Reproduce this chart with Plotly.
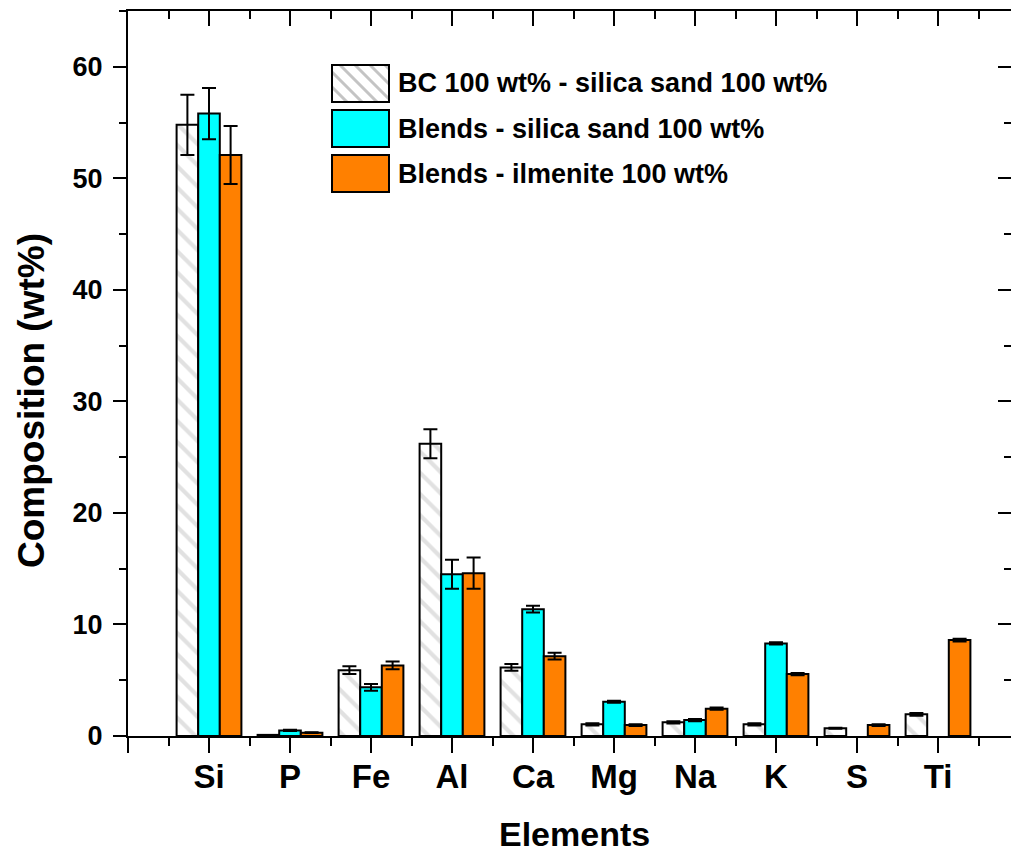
import plotly.graph_objects as go

elements = ["Si", "P", "Fe", "Al", "Ca", "Mg", "Na", "K", "S", "Ti"]
positions = [1, 2, 3, 4, 5, 6, 7, 8, 9, 10]

bc_silica = [54.8, 0.1, 5.9, 26.2, 6.15, 1.05, 1.23, 1.05, 0.69, 1.94]
bc_silica_err = [2.7, 0.0, 0.35, 1.3, 0.3, 0.1, 0.1, 0.1, 0.05, 0.12]

blends_silica = [55.8, 0.5, 4.36, 14.5, 11.37, 3.07, 1.43, 8.3, None, None]
blends_silica_err = [2.3, 0.05, 0.3, 1.3, 0.3, 0.1, 0.1, 0.1, 0.0, 0.0]

blends_ilmenite = [52.1, 0.3, 6.33, 14.6, 7.16, 0.98, 2.45, 5.55, 0.98, 8.6]
blends_ilmenite_err = [2.6, 0.03, 0.35, 1.4, 0.3, 0.08, 0.1, 0.1, 0.08, 0.12]

series_names = ["BC 100 wt% - silica sand 100 wt%",
                "Blends - silica sand 100 wt%",
                "Blends - ilmenite 100 wt%"]
series_colors = ["white", "#00FFFF", "#FF8000"]

FONT = "Liberation Sans, Arial, sans-serif"
HATCH = "#c4c4c4"
err_style = dict(type="data", color="black", thickness=2, width=7)

W, H = 1011, 854
ML, MR, MT, MB = 128, 0, 11, 118
PW, PH = W - ML - MR, H - MT - MB


def px_x(px):
    return (px - ML) / PW


def px_y(py):
    return (H - MB - py) / PH


fig = go.Figure()
fig.add_trace(go.Bar(
    x=positions, y=bc_silica, name=series_names[0],
    error_y=dict(array=bc_silica_err, **err_style),
    marker=dict(color="white", line=dict(color="black", width=2),
                pattern=dict(shape="\\", fgcolor=HATCH, bgcolor="white",
                             size=15, solidity=0.28)),
))
fig.add_trace(go.Bar(
    x=positions, y=blends_silica, name=series_names[1],
    error_y=dict(array=blends_silica_err, **err_style),
    marker=dict(color=series_colors[1], line=dict(color="black", width=2)),
))
fig.add_trace(go.Bar(
    x=positions, y=blends_ilmenite, name=series_names[2],
    error_y=dict(array=blends_ilmenite_err, **err_style),
    marker=dict(color=series_colors[2], line=dict(color="black", width=2)),
))
# dummy trace to carry mirrored axes (top/right with inward ticks)
fig.add_trace(go.Scatter(x=[None], y=[None], xaxis="x2", yaxis="y2",
                         showlegend=False, hoverinfo="skip"))

# ---- legend drawn as swatches + text (large swatches like the original) ----
shapes = []
annotations = []
sw_x0, sw_x1 = 332, 389
row_tops = [65, 110, 155]
sw_h = 37
for i, (name, col) in enumerate(zip(series_names, series_colors)):
    y0 = row_tops[i]
    y1 = y0 + sw_h
    shapes.append(dict(type="rect", xref="paper", yref="paper",
                       x0=px_x(sw_x0), x1=px_x(sw_x1), y0=px_y(y1), y1=px_y(y0),
                       fillcolor=col, line=dict(width=0), layer="above"))
    if i == 0:
        # diagonal hatch "\" : lines x - y = c
        for c in range(sw_x0 - y1 - 15, sw_x1 - y0 + 15, 15):
            pts = []
            for yy in (y0, y1):
                xx = c + yy
                if sw_x0 <= xx <= sw_x1:
                    pts.append((xx, yy))
            for xx in (sw_x0, sw_x1):
                yy = xx - c
                if y0 < yy < y1:
                    pts.append((xx, yy))
            if len(pts) >= 2:
                (ax, ay), (bx, by) = pts[0], pts[1]
                shapes.append(dict(type="line", xref="paper", yref="paper",
                                   x0=px_x(ax), y0=px_y(ay), x1=px_x(bx), y1=px_y(by),
                                   line=dict(color=HATCH, width=3), layer="above"))
    shapes.append(dict(type="rect", xref="paper", yref="paper",
                       x0=px_x(sw_x0), x1=px_x(sw_x1), y0=px_y(y1), y1=px_y(y0),
                       fillcolor="rgba(0,0,0,0)", line=dict(color="black", width=2),
                       layer="above"))
    annotations.append(dict(xref="paper", yref="paper", x=px_x(396), y=px_y(y0 + sw_h / 2),
                            xanchor="left", yanchor="middle", showarrow=False,
                            text=name, font=dict(size=27, weight="bold", family=FONT,
                                                 color="black")))

# axis titles
annotations.append(dict(xref="paper", yref="paper", x=px_x(31), y=px_y(401),
                        xanchor="center", yanchor="middle", showarrow=False,
                        textangle=-90, text="Composition (wt%)",
                        font=dict(size=37, weight="bold", family=FONT, color="black")))
annotations.append(dict(xref="paper", yref="paper", x=px_x(574), y=px_y(834),
                        xanchor="center", yanchor="middle", showarrow=False,
                        text="Elements",
                        font=dict(size=34, weight="bold", family=FONT, color="black")))

major_x = [0] + positions
minor_x = [p - 0.5 for p in positions] + [10.5]

fig.update_layout(
    width=W, height=H,
    margin=dict(l=ML, r=MR, t=MT, b=MB, autoexpand=False),
    plot_bgcolor="white", paper_bgcolor="white",
    barmode="group", bargap=0.2, bargroupgap=0,
    font=dict(family=FONT, color="black"),
    showlegend=False,
    shapes=shapes,
    annotations=annotations,
    xaxis=dict(
        range=[0, PW / 81.0], tickmode="array", tickvals=major_x,
        ticktext=[""] + elements,
        ticks="outside", ticklen=15, tickwidth=2, tickcolor="black",
        minor=dict(tickvals=minor_x, ticks="outside", ticklen=8, tickwidth=2, tickcolor="black"),
        showline=True, linewidth=2, linecolor="black", showgrid=False, zeroline=False,
        tickfont=dict(size=33, weight="bold"), ticklabelstandoff=-5,
    ),
    yaxis=dict(
        range=[0, 65], tickmode="linear", tick0=0, dtick=10,
        ticks="outside", ticklen=13, tickwidth=2, tickcolor="black",
        minor=dict(dtick=5, tick0=0, ticks="outside", ticklen=7, tickwidth=2, tickcolor="black"),
        showline=True, linewidth=2, linecolor="black", showgrid=False, zeroline=False,
        tickfont=dict(size=27, weight="bold"), ticklabelstandoff=5,
    ),
    xaxis2=dict(
        overlaying="x", side="top", matches="x", anchor="y2",
        tickmode="array", tickvals=major_x,
        showticklabels=False, ticks="inside", ticklen=15, tickwidth=2, tickcolor="black",
        minor=dict(tickvals=minor_x, ticks="inside", ticklen=8, tickwidth=2, tickcolor="black"),
        showline=True, linewidth=2, linecolor="black", showgrid=False, zeroline=False,
    ),
    yaxis2=dict(
        overlaying="y", side="right", matches="y", anchor="x2",
        tickmode="linear", tick0=0, dtick=10,
        showticklabels=False, ticks="inside", ticklen=13, tickwidth=2, tickcolor="black",
        minor=dict(dtick=5, tick0=0, ticks="inside", ticklen=7, tickwidth=2, tickcolor="black"),
        showline=True, linewidth=2, linecolor="black", showgrid=False, zeroline=False,
    ),
)

fig.write_html("out.html", config={"displayModeBar": False},
               post_script="document.body.style.margin='0px';")
